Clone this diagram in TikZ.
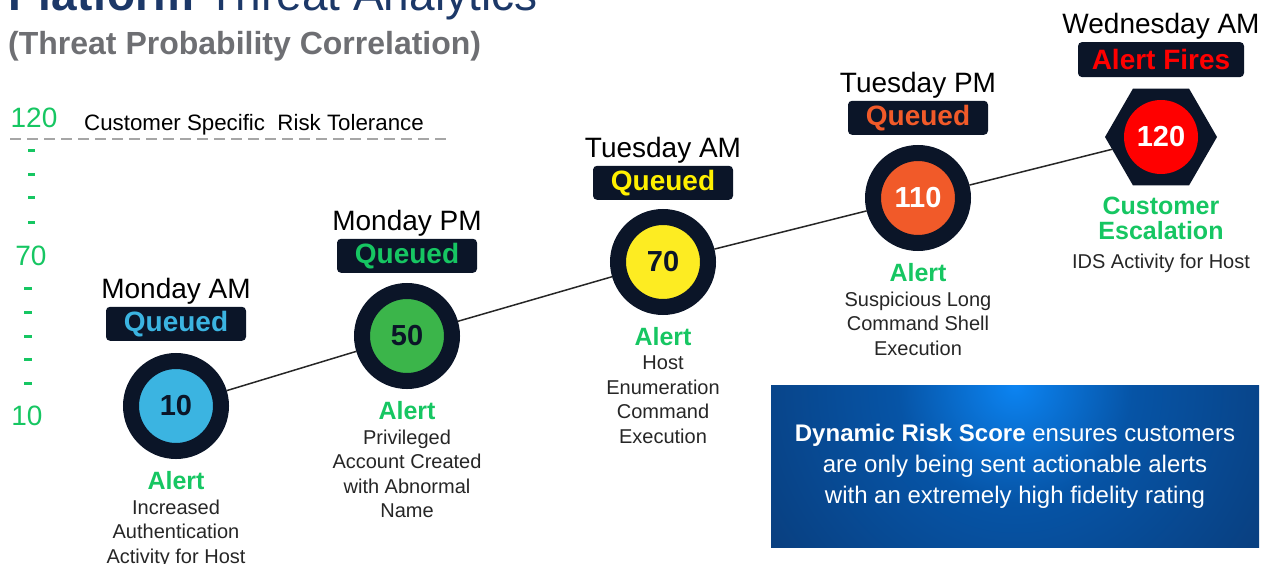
\documentclass[tikz,border=0pt]{standalone}
\usepackage{fontspec}
\setmainfont{Liberation Sans}
\usetikzlibrary{shapes.geometric,positioning}
\definecolor{navy}{RGB}{11,21,40}
\definecolor{alertgreen}{RGB}{22,198,98}
\definecolor{skyblue}{RGB}{59,180,225}
\definecolor{leafgreen}{RGB}{59,181,74}
\definecolor{sunyellow}{RGB}{253,236,34}
\definecolor{queueyellow}{RGB}{255,240,0}
\definecolor{fireorange}{RGB}{241,90,41}
\definecolor{alarmred}{RGB}{255,0,0}
\definecolor{titleblue}{RGB}{28,56,104}
\definecolor{titlegray}{RGB}{110,111,115}
\definecolor{glowblue}{RGB}{12,132,242}
\definecolor{midblue}{RGB}{6,84,166}
\definecolor{boxbottom}{RGB}{11,48,100}
\pgfdeclareradialshading{boxglow}{\pgfpointorigin}{color(0bp)=(glowblue); color(7bp)=(midblue); color(25bp)=(boxbottom); color(50bp)=(boxbottom)}
\tikzset{
scoredot/.style = {draw=navy, circle, line width=16pt, minimum size=90pt, inner sep=0pt, text=navy, font=\fontsize{29}{29}\selectfont\bfseries},
statusbox/.style = {fill=navy, rounded corners=4pt, minimum width=140pt, minimum height=34pt, inner sep=0pt, font=\fontsize{28}{28}\selectfont\bfseries},
daylabel/.style = {inner sep=1pt, font=\fontsize{28}{28}\selectfont},
alertlabel/.style = {inner sep=0pt, align=center, text=alertgreen, font=\fontsize{25}{25}\selectfont\bfseries},
alertdesc/.style = {inner sep=0pt, align=center, text=black!85, font=\fontsize{20}{24.5}\selectfont},
axisnum/.style = {inner sep=0pt, text=alertgreen, font=\fontsize{28}{28}\selectfont},
axistick/.style = {alertgreen, line width=3pt},
trend/.style = {draw=black!85, line width=1.5pt},
infobox/.style = {minimum width=488pt, minimum height=162pt, fill=boxbottom, text=white, align=center, font=\fontsize{24}{31}\selectfont,
  path picture={\shade [shading=boxglow] (path picture bounding box.north) circle (420pt);}}
}
\begin{document}
\begin{tikzpicture}[x=1pt, y=-1pt]
  \useasboundingbox (0,0) rectangle (1268,564);

  % heading
  \node [anchor=base west, inner sep=0pt, text=titleblue, font=\fontsize{46}{46}\selectfont] (title) at (8,11) {\textbf{Platform} Threat Analytics};
  \node [anchor=base west, inner sep=0pt, text=titlegray, font=\fontsize{32}{32}\selectfont\bfseries] (subtitle) at (8,55) {(Threat Probability Correlation)};

  % risk scale
  \node [axisnum] (scale120) at (34,118) {120};
  \node [anchor=base west, inner sep=0pt, font=\fontsize{22.3}{23}\selectfont] (tolerance) at (84,131) {Customer Specific~~Risk Tolerance};
  \draw [gray!70, line width=1.3pt, dash pattern=on 11pt off 6pt] (10,139) -- (447,139);
  \draw [axistick] (28,151) -- (35,151) (28,175) -- (35,175) (28,198) -- (35,198) (28,222) -- (35,222);
  \node [axisnum] (scale70) at (31,256) {70};
  \draw [axistick] (24,288) -- (32,288) (24,312) -- (32,312) (24,336) -- (32,336) (24,359) -- (32,359) (24,383) -- (32,383);
  \node [axisnum] (scale10) at (27,416) {10};

  % monday am
  \node [scoredot, fill=skyblue] (monam) at (176,406) {10};
  \node [statusbox, text=skyblue, above=12pt of monam] (monamq) {Queued};
  \node [daylabel, above=1pt of monamq] (monamday) {Monday AM};
  \node [alertlabel, below=12pt of monam] (monamalert) {Alert};
  \node [alertdesc, below=10pt of monamalert] (monamdesc) {Increased\\Authentication\\Activity for Host};

  % monday pm
  \node [scoredot, fill=leafgreen] (monpm) at (407,336) {50};
  \node [statusbox, text=alertgreen, above=10pt of monpm] (monpmq) {Queued};
  \node [daylabel, above=1pt of monpmq] (monpmday) {Monday PM};
  \node [alertlabel, below=12pt of monpm] (monpmalert) {Alert};
  \node [alertdesc, below=10pt of monpmalert] (monpmdesc) {Privileged\\Account Created\\with Abnormal\\Name};

  % tuesday am
  \node [scoredot, fill=sunyellow] (tueam) at (663,262) {70};
  \node [statusbox, text=queueyellow, above=9pt of tueam] (tueamq) {Queued};
  \node [daylabel, above=1pt of tueamq] (tueamday) {Tuesday AM};
  \node [alertlabel, below=12pt of tueam] (tueamalert) {Alert};
  \node [alertdesc, below=10pt of tueamalert] (tueamdesc) {Host\\Enumeration\\Command\\Execution};

  % tuesday pm
  \node [scoredot, fill=fireorange, text=white] (tuepm) at (918,198) {110};
  \node [statusbox, text=fireorange, above=10pt of tuepm] (tuepmq) {Queued};
  \node [daylabel, above=1pt of tuepmq] (tuepmday) {Tuesday PM};
  \node [alertlabel, below=12pt of tuepm] (tuepmalert) {Alert};
  \node [alertdesc, below=10pt of tuepmalert] (tuepmdesc) {Suspicious Long\\Command Shell\\Execution};

  % wednesday am
  \node [regular polygon, regular polygon sides=6, minimum size=112pt, inner sep=0pt, fill=navy] (wedam) at (1161,137) {};
  \node [circle, minimum size=74pt, inner sep=0pt, fill=alarmred, text=white, font=\fontsize{29}{29}\selectfont\bfseries] (wedamscore) at (wedam) {120};
  \node [statusbox, minimum width=166pt, minimum height=35pt, text=alarmred, above=11pt of wedam] (wedamq) {Alert Fires};
  \node [daylabel, above=1pt of wedamq] (wedamday) {Wednesday AM};
  \node [alertlabel, below=11pt of wedam] (wedamalert) {Customer\\Escalation};
  \node [alertdesc, below=14pt of wedamalert] (wedamdesc) {IDS Activity for Host};

  \draw [trend] (monam) -- (monpm);
  \draw [trend] (monpm) -- (tueam);
  \draw [trend] (tueam) -- (tuepm);
  \draw [trend] (tuepm) -- (wedam);

  % note
  \node [infobox] (riskscore) at (1015,466) {\textbf{Dynamic Risk Score} ensures customers\\are only being sent actionable alerts\\with an extremely high fidelity rating};
\end{tikzpicture}
\end{document}
